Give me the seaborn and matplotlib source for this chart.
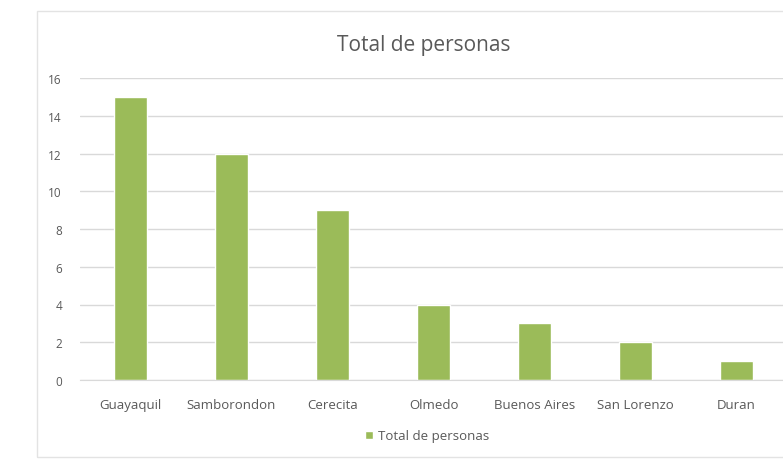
import matplotlib
matplotlib.use("Agg")
import matplotlib.pyplot as plt
from matplotlib.patches import Rectangle
import seaborn as sns

# Number of people per locality
ciudades = ["Guayaquil", "Samborondon", "Cerecita", "Olmedo",
            "Buenos Aires", "San Lorenzo", "Duran"]
personas = [15, 12, 9, 4, 3, 2, 1]
y_ticks = [0, 2, 4, 6, 8, 10, 12, 14, 16]
serie = "Total de personas"

sns.set_style("white")
plt.rcParams["font.family"] = ["Open Sans", "DejaVu Sans"]

text_color = "#595959"
bar_color = "#9BBB59"
grid_color = "#D9D9D9"

fig = plt.figure(figsize=(7.83, 4.60), dpi=100)
fig.patch.set_facecolor("white")

# chart frame
fig.patches.append(Rectangle((37 / 783, 2 / 460), 1.0, 446 / 460,
                             transform=fig.transFigure, fill=False,
                             edgecolor="#E3E3E3", linewidth=1.0))

ax = fig.add_axes([80 / 783, (460 - 381) / 460, 707 / 783, 302 / 460])
sns.barplot(x=ciudades, y=personas, color=bar_color, width=0.32,
            saturation=1, label=serie, ax=ax)

ax.set_ylim(0, 16)
ax.set_yticks(y_ticks)
ax.set_yticklabels([str(t) for t in y_ticks])
ax.set_xlim(-0.5, len(ciudades) - 0.5)
ax.yaxis.grid(True, color=grid_color, linewidth=1.0)
ax.set_axisbelow(True)
for side in ["top", "right", "left"]:
    ax.spines[side].set_visible(False)
ax.spines["bottom"].set_color(grid_color)
ax.tick_params(axis="x", length=0, colors=text_color, labelsize=9.5, pad=13)
ax.tick_params(axis="y", length=0, colors=text_color, labelsize=8.5, pad=13)
ax.set_xlabel("")
ax.set_ylabel("")

fig.text(424 / 783, 1 - 45 / 460, "Total de personas", ha="center",
         va="center", fontsize=15, color=text_color)

ax.legend(loc="center", bbox_to_anchor=(427 / 783, 1 - 437 / 460),
          bbox_transform=fig.transFigure, frameon=False, fontsize=9.5,
          labelcolor=text_color, handlelength=0.6, handleheight=0.6,
          handletextpad=0.4)

fig.savefig("out.png", dpi=100, facecolor="white")
